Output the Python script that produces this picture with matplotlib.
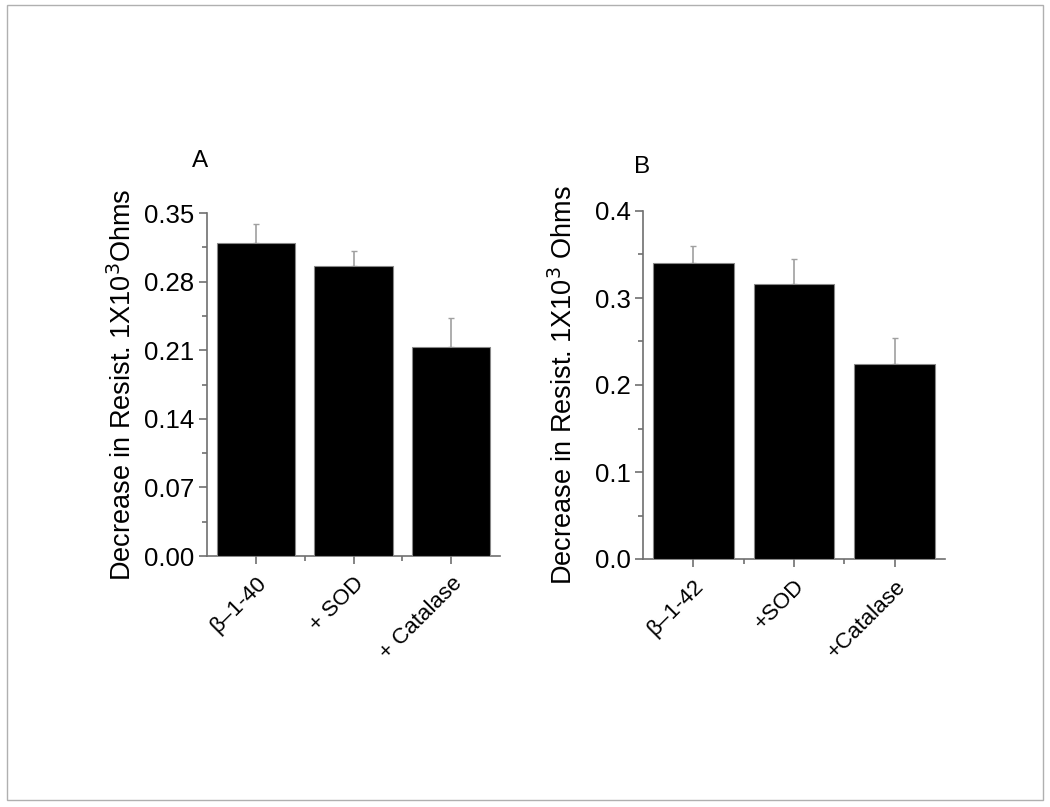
import matplotlib
matplotlib.use("Agg")
import matplotlib.pyplot as plt
from matplotlib.patches import Rectangle
from matplotlib.ticker import MultipleLocator, FixedLocator

plt.rcParams['font.family'] = ['Liberation Sans', 'DejaVu Sans']

# Data
cats_a = ["β–1-40", "+ SOD", "+ Catalase"]
vals_a = [0.319, 0.296, 0.213]
errs_a = [0.020, 0.015, 0.030]

cats_b = ["β–1-42", "+SOD", "+Catalase"]
vals_b = [0.340, 0.316, 0.224]
errs_b = [0.020, 0.029, 0.030]

yticks_a = [0.00, 0.07, 0.14, 0.21, 0.28, 0.35]
yticks_b = [0.0, 0.1, 0.2, 0.3, 0.4]

ylabel = "Decrease in Resist. 1X10$^{3}$Ohms"
ylabel_b = "Decrease in Resist. 1X10$^{3}$ Ohms"

W, H = 1050, 807
fig = plt.figure(figsize=(W / 100, H / 100), dpi=100)
fig.patches.append(Rectangle((7 / W, 1 - 800 / H), (1043 - 7) / W, (800 - 5) / H,
                             transform=fig.transFigure, fill=False,
                             edgecolor="#b0b0b0", linewidth=1))

spine_col = "#707070"

def panel(rect, cats, vals, errs, yticks, ylim, fmt, minor, label, letter, letter_xy, label_px):
    ax = fig.add_axes(rect)
    x = list(range(len(cats)))
    ax.bar(x, vals, width=0.8, color="black", edgecolor="#888888", linewidth=0.8, zorder=3)
    ax.errorbar(x, vals, yerr=[[0] * len(errs), errs], fmt="none", ecolor="#a0a0a0",
                elinewidth=1.2, capsize=2.5, capthick=1, zorder=2)
    ax.set_xlim(-0.5, len(cats) - 0.5)
    ax.set_ylim(*ylim)
    ax.set_yticks(yticks)
    ax.set_yticklabels([fmt.format(v) for v in yticks], fontsize=18.5)
    ax.yaxis.set_minor_locator(MultipleLocator(minor))
    ax.set_xticks(x)
    ax.set_xticklabels(cats, rotation=45, ha="right", rotation_mode="anchor", fontsize=16)
    ax.xaxis.set_minor_locator(FixedLocator([i + 0.5 for i in x[:-1]]))
    for s in ["top", "right"]:
        ax.spines[s].set_visible(False)
    for s in ["left", "bottom"]:
        ax.spines[s].set_color(spine_col)
        ax.spines[s].set_linewidth(1.2)
    ax.tick_params(which="major", direction="out", length=6, width=1.2, color=spine_col, pad=3)
    ax.tick_params(which="minor", direction="out", length=3.5, width=1.2, color=spine_col)
    ax.tick_params(axis="x", which="major", pad=6)
    ax.set_ylabel(label, fontsize=19.5, va="center")
    x0 = rect[0] * W
    wpx = rect[2] * W
    ax.yaxis.set_label_coords((label_px - x0) / wpx, 0.5)
    fig.text(letter_xy[0] / W, 1 - letter_xy[1] / H, letter, fontsize=17.5, ha="center", va="center")
    return ax

panel([207 / W, 1 - 556 / H, (500 - 207) / W, (556 - 213) / H], cats_a, vals_a, errs_a,
      yticks_a, (0, 0.35), "{:.2f}", 0.035, ylabel, "A", (200, 161), 123)
panel([643 / W, 1 - 559 / H, (945 - 643) / W, (559 - 211) / H], cats_b, vals_b, errs_b,
      yticks_b, (0, 0.4), "{:.1f}", 0.05, ylabel_b, "B", (642, 167), 564)

fig.savefig("out.png", dpi=100)
